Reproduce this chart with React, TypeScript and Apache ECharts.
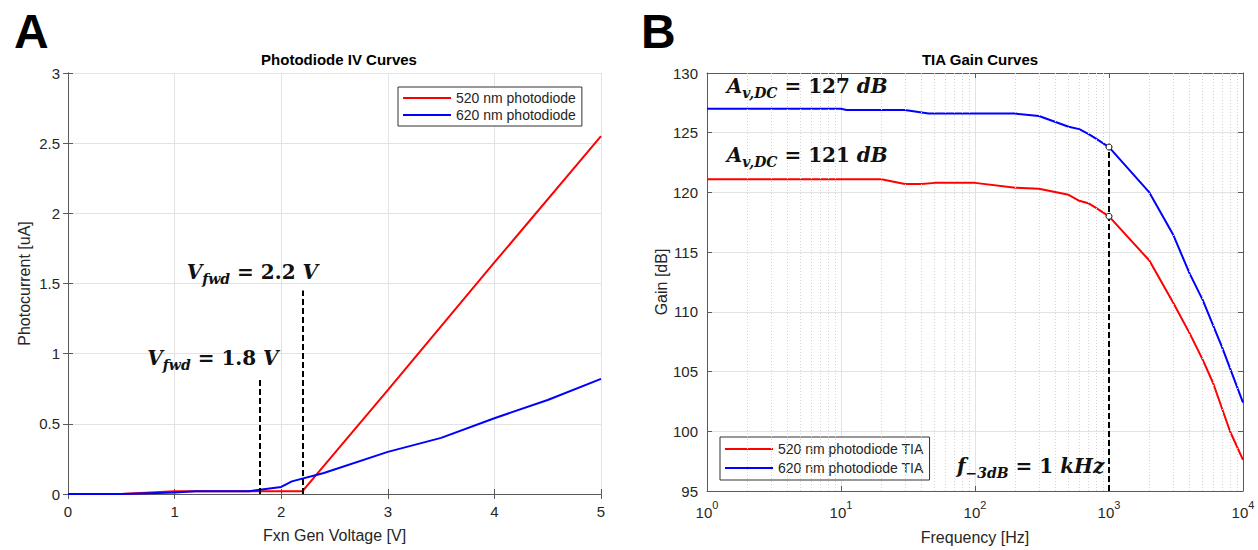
import React, { useEffect, useRef } from "react";
import * as echarts from "echarts";

// Panel A: photodiode IV curves
const ivVoltage520 = [0, 0.5, 1, 1.5, 2, 2.2, 3, 4, 5];
const ivCurrent520 = [0, 0, 0.02, 0.02, 0.02, 0.02, 0.74, 1.65, 2.55];
const ivVoltage620 = [0, 0.5, 1, 1.2, 1.5, 1.7, 1.8, 2, 2.1, 2.4, 3, 3.5, 4, 4.5, 5];
const ivCurrent620 = [0, 0, 0.01, 0.02, 0.02, 0.02, 0.03, 0.05, 0.09, 0.15, 0.3, 0.4, 0.54, 0.67, 0.82];
const fwdVoltages = [1.8, 2.2];
const fwdLineTops = [0.83, 1.45];

// Panel B: TIA gain curves
const gainFreq520 = [1, 10, 20, 30, 40, 50, 100, 200, 300, 500, 600, 700, 800, 1000, 2000, 3000, 4000, 5000, 6000, 8000, 10000];
const gain520 = [121.1, 121.1, 121.1, 120.7, 120.7, 120.8, 120.8, 120.4, 120.3, 119.8, 119.3, 119.1, 118.7, 118.0, 114.3, 110.8, 108.2, 106.0, 104.0, 100.0, 97.6];
const gainFreq620 = [1, 10, 11, 30, 45, 100, 200, 300, 500, 600, 700, 800, 1000, 2000, 3000, 4000, 5000, 7000, 10000];
const gain620 = [127, 127, 126.9, 126.9, 126.6, 126.6, 126.6, 126.4, 125.5, 125.3, 124.9, 124.5, 123.8, 120.0, 116.5, 113.2, 111.0, 107.0, 102.4];
const cutoffFreq = 1000;
const cutoffGains = [123.8, 118.0];
const minorFreqs = [2, 3, 4, 5, 6, 7, 8, 9, 20, 30, 40, 50, 60, 70, 80, 90, 200, 300, 400, 500, 600, 700, 800, 900, 2000, 3000, 4000, 5000, 6000, 7000, 8000, 9000];

const SANS = "'Liberation Sans', Arial, Helvetica, sans-serif";
const SERIF = "'DejaVu Serif', 'Liberation Serif', serif";
const TXT = "#262626";
const AX = "#5a5a5a";
const GRIDC = "#e3e3e3";

const mathRich = {
  v: { fontFamily: SERIF, fontWeight: "bold", fontStyle: "italic", fontSize: 20, color: "#111", verticalAlign: "top", lineHeight: 28 },
  n: { fontFamily: SERIF, fontWeight: "bold", fontSize: 20, color: "#111", verticalAlign: "top", lineHeight: 28 },
  sub: { fontFamily: SERIF, fontWeight: "bold", fontStyle: "italic", fontSize: 14, color: "#111", verticalAlign: "top", lineHeight: 28, padding: [10, 0, 0, 0] },
};

const labelPoint = (coord: number[], text: string) => ({
  coord,
  symbol: "circle",
  symbolSize: 1,
  itemStyle: { color: "rgba(0,0,0,0)" },
  label: { show: true, position: "inside", formatter: text, rich: mathRich },
});

function boxAxis(gridIndex: number, position: string) {
  return {
    gridIndex,
    position,
    axisLine: { show: true, lineStyle: { color: AX, width: 1 } },
    axisTick: { show: true, inside: true, length: 5, lineStyle: { color: AX } },
    axisLabel: { show: false },
    splitLine: { show: false },
  };
}

export default function App() {
  const ref = useRef<HTMLDivElement>(null);
  useEffect(() => {
    if (!ref.current) return;
    const chart = echarts.init(ref.current, null, { renderer: "svg" });
    const axisLabel = { color: TXT, fontSize: 15, fontFamily: SANS };
    const nameStyle = { color: TXT, fontSize: 16, fontFamily: SANS };
    const legendText = { color: TXT, fontSize: 14, fontFamily: SANS };
    const option: any = {
      animation: false,
      backgroundColor: "#fff",
      title: [
        { text: "A", left: 9, top: 2, textStyle: { fontSize: 48, fontWeight: "bold", fontFamily: SANS, color: "#000" } },
        { text: "B", left: 636, top: 2, textStyle: { fontSize: 48, fontWeight: "bold", fontFamily: SANS, color: "#000" } },
        { text: "Photodiode IV Curves", left: 334, textAlign: "center", top: 47, textStyle: { fontSize: 15, fontWeight: "bold", fontFamily: SANS, color: "#000" } },
        { text: "TIA Gain Curves", left: 975, textAlign: "center", top: 47, textStyle: { fontSize: 15, fontWeight: "bold", fontFamily: SANS, color: "#000" } },
      ],
      grid: [
        { left: 68, top: 73, width: 533, height: 421 },
        { left: 707, top: 73, width: 536, height: 421 },
      ],
      legend: [
        {
          data: ["520 nm photodiode", "620 nm photodiode"],
          left: 398, top: 87, orient: "vertical",
          icon: "rect", itemWidth: 48, itemHeight: 2, itemGap: 3,
          padding: [4, 6, 4, 5],
          borderColor: "#333", borderWidth: 1, backgroundColor: "#fff",
          textStyle: legendText,
          selectedMode: false,
        },
        {
          data: ["520 nm photodiode TIA", "620 nm photodiode TIA"],
          left: 720, top: 437, orient: "vertical",
          icon: "rect", itemWidth: 48, itemHeight: 2, itemGap: 5,
          padding: [5, 6, 5, 5],
          borderColor: "#333", borderWidth: 1, backgroundColor: "#fff",
          textStyle: legendText,
          selectedMode: false,
        },
      ],
      xAxis: [
        {
          ...boxAxis(0, "bottom"),
          type: "value", min: 0, max: 5, interval: 1,
          axisLabel: { ...axisLabel, margin: 10 },
          splitLine: { show: true, lineStyle: { color: GRIDC } },
          name: "Fxn Gen Voltage [V]", nameLocation: "middle", nameGap: 33, nameTextStyle: nameStyle,
        },
        { ...boxAxis(0, "top"), type: "value", min: 0, max: 5, interval: 1 },
        {
          ...boxAxis(1, "bottom"),
          type: "log", logBase: 10, min: 1, max: 10000,
          axisLabel: {
            margin: 8,
            formatter: (v: number) => `{b|10}{s|${Math.round(Math.log10(v))}}`,
            rich: {
              b: { color: TXT, fontSize: 15, fontFamily: SANS, verticalAlign: "top", padding: [6, 0, 0, 0] },
              s: { color: TXT, fontSize: 11, fontFamily: SANS, verticalAlign: "top" },
            },
          },
          splitLine: { show: true, lineStyle: { color: GRIDC } },
          name: "Frequency [Hz]", nameLocation: "middle", nameGap: 38, nameTextStyle: nameStyle,
        },
        { ...boxAxis(1, "top"), type: "log", logBase: 10, min: 1, max: 10000 },
      ],
      yAxis: [
        {
          ...boxAxis(0, "left"),
          type: "value", min: 0, max: 3, interval: 0.5,
          axisLabel: { ...axisLabel, margin: 8 },
          splitLine: { show: true, lineStyle: { color: GRIDC } },
          name: "Photocurrent [uA]", nameLocation: "middle", nameGap: 36, nameTextStyle: nameStyle,
        },
        { ...boxAxis(0, "right"), type: "value", min: 0, max: 3, interval: 0.5 },
        {
          ...boxAxis(1, "left"),
          type: "value", min: 95, max: 130, interval: 5,
          axisLabel: { ...axisLabel, margin: 9 },
          splitLine: { show: true, lineStyle: { color: GRIDC } },
          name: "Gain [dB]", nameLocation: "middle", nameGap: 38, nameTextStyle: nameStyle,
        },
        { ...boxAxis(1, "right"), type: "value", min: 95, max: 130, interval: 5 },
      ],
      series: [
        {
          name: "minorGrid", type: "line", xAxisIndex: 2, yAxisIndex: 2, data: [], z: 1, silent: true,
          markLine: {
            silent: true, symbol: "none", label: { show: false },
            lineStyle: { color: "#d4d4d4", type: [1, 2], width: 1 },
            data: minorFreqs.map((f) => ({ xAxis: f })),
          },
        },
        {
          name: "520 nm photodiode", type: "line", xAxisIndex: 0, yAxisIndex: 0,
          data: ivVoltage520.map((v, i) => [v, ivCurrent520[i]]),
          showSymbol: false, lineStyle: { color: "#ff0000", width: 2 }, itemStyle: { color: "#ff0000" },
          markLine: {
            silent: true, symbol: "none", label: { show: false },
            lineStyle: { color: "#000", type: [6, 3], width: 2 },
            data: fwdVoltages.map((v, i) => [{ coord: [v, 0] }, { coord: [v, fwdLineTops[i]] }]),
          },
          markPoint: {
            silent: true,
            data: [
              labelPoint([1.36, 0.94], "{v|V}{sub|fwd}{n| = 1.8 }{v|V}"),
              labelPoint([1.73, 1.55], "{v|V}{sub|fwd}{n| = 2.2 }{v|V}"),
            ],
          },
        },
        {
          name: "620 nm photodiode", type: "line", xAxisIndex: 0, yAxisIndex: 0,
          data: ivVoltage620.map((v, i) => [v, ivCurrent620[i]]),
          showSymbol: false, lineStyle: { color: "#0000ff", width: 2 }, itemStyle: { color: "#0000ff" },
        },
        {
          name: "520 nm photodiode TIA", type: "line", xAxisIndex: 2, yAxisIndex: 2,
          data: gainFreq520.map((f, i) => [f, gain520[i]]),
          showSymbol: false, lineStyle: { color: "#ff0000", width: 2 }, itemStyle: { color: "#ff0000" },
          markLine: {
            silent: true, symbol: "none", label: { show: false },
            lineStyle: { color: "#000", type: [6, 3], width: 2 },
            data: [[{ coord: [cutoffFreq, 95] }, { coord: [cutoffFreq, cutoffGains[0]] }]],
          },
          markPoint: {
            silent: true,
            data: [
              labelPoint([5.6, 122.8], "{v|A}{sub|v,DC}{n| = 121 }{v|dB}"),
              labelPoint([260, 96.75], "{v|f}{sub|−3dB}{n| = 1 }{v|kHz}"),
            ],
          },
        },
        {
          name: "620 nm photodiode TIA", type: "line", xAxisIndex: 2, yAxisIndex: 2,
          data: gainFreq620.map((f, i) => [f, gain620[i]]),
          showSymbol: false, lineStyle: { color: "#0000ff", width: 2 }, itemStyle: { color: "#0000ff" },
          markPoint: {
            silent: true,
            data: [labelPoint([5.6, 128.6], "{v|A}{sub|v,DC}{n| = 127 }{v|dB}")],
          },
        },
        {
          name: "cutoff", type: "scatter", xAxisIndex: 2, yAxisIndex: 2, z: 5,
          data: cutoffGains.map((g) => [cutoffFreq, g]),
          symbol: "circle", symbolSize: 6,
          itemStyle: { color: "#fff", borderColor: "#000", borderWidth: 1, opacity: 1 },
          emphasis: { disabled: true },
        },
      ],
    };
    chart.setOption(option);
    return () => chart.dispose();
  }, []);
  return <div ref={ref} style={{ position: "absolute", left: 0, top: 0, width: 1258, height: 550 }} />;
}
